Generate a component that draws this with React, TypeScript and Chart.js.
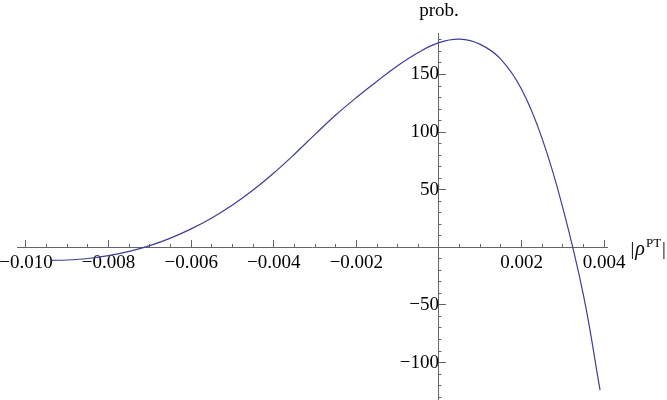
import React, { useEffect, useRef } from "react";
import { Chart, registerables } from "chart.js";

Chart.register(...registerables);

// |rho^PT| values (x) and probability values (y)
const rhoPT = [
  -0.0094, -0.009, -0.0085, -0.008, -0.0075, -0.007, -0.0065, -0.006,
  -0.0055, -0.005, -0.0045, -0.004, -0.0035, -0.003, -0.0025, -0.002,
  -0.0015, -0.001, -0.0005, 0, 0.0005, 0.001, 0.0015, 0.002, 0.0025, 0.003,
  0.0035, 0.0039,
];
const prob = [
  -11.3, -11.0, -9.7, -7.2, -3.5, 1.5, 8.0, 16.0, 25.5, 36.7, 49.7, 64.5,
  80.8, 98.0, 114.8, 130.0, 144.2, 157.6, 169.1, 177.6, 180.6, 176.1, 163.1,
  137.1, 94.1, 34.1, -41.9, -123.9,
];

const X_RANGE = [-0.0102, 0.00408];
const Y_RANGE = [-132.5, 186];
const X_MINOR_STEP = 0.0005;
const X_MAJOR_STEP = 0.002;
const Y_MINOR_STEP = 10;
const Y_MAJOR_STEP = 50;
const X_AXIS_TITLE = ["|", "ρ", "PT", "|"];
const Y_AXIS_TITLE = "prob.";

const FONT = "'Liberation Serif', 'Times New Roman', serif";
const AXIS_COLOR = "#666666";
const LINE_COLOR = "#3d3d99";

const isMultiple = (v: number, step: number) =>
  Math.abs(v / step - Math.round(v / step)) < 1e-6;

const fmtX = (v: number) =>
  (v < 0 ? "\u2212" : "") + Math.abs(v).toFixed(3);
const fmtY = (v: number) =>
  (v < 0 ? "\u2212" : "") + String(Math.round(Math.abs(v)));

const zeroPad = (scale: any) => {
  scale.paddingLeft = 0;
  scale.paddingRight = 0;
  scale.paddingTop = 0;
  scale.paddingBottom = 0;
};

const titlePlugin = {
  id: "axisTitles",
  afterDraw(chart: any) {
    const ctx = chart.ctx;
    const xs = chart.scales.x;
    const ys = chart.scales.y;
    const x0 = xs.getPixelForValue(0);
    const y0 = ys.getPixelForValue(0);
    ctx.save();
    ctx.fillStyle = "#000";
    ctx.textBaseline = "alphabetic";
    // y-axis title
    ctx.font = `19px ${FONT}`;
    ctx.textAlign = "center";
    ctx.fillText(Y_AXIS_TITLE, x0, chart.chartArea.top - 17);
    // x-axis title |rho^PT|
    let px = chart.chartArea.right + 23;
    const base = y0 + 8;
    ctx.textAlign = "left";
    ctx.font = `19px ${FONT}`;
    ctx.fillText(X_AXIS_TITLE[0], px, base);
    px += ctx.measureText(X_AXIS_TITLE[0]).width + 1;
    ctx.font = `italic 20px ${FONT}`;
    ctx.fillText(X_AXIS_TITLE[1], px, base);
    px += ctx.measureText(X_AXIS_TITLE[1]).width + 1;
    ctx.font = `13px ${FONT}`;
    ctx.fillText(X_AXIS_TITLE[2], px, base - 8);
    px += ctx.measureText(X_AXIS_TITLE[2]).width + 1;
    ctx.font = `19px ${FONT}`;
    ctx.fillText(X_AXIS_TITLE[3], px, base);
    ctx.restore();
  },
};

export default function App() {
  const ref = useRef<HTMLCanvasElement | null>(null);

  useEffect(() => {
    if (!ref.current) return;
    const tickFont = { family: FONT, size: 19 };
    const chart = new Chart(ref.current, {
      type: "line",
      data: {
        datasets: [
          {
            data: rhoPT.map((x, i) => ({ x, y: prob[i] })),
            borderColor: LINE_COLOR,
            borderWidth: 1.2,
            pointRadius: 0,
            tension: 0.4,
            fill: false,
            xAxisID: "x",
            yAxisID: "y",
          },
        ],
      },
      options: {
        animation: false,
        responsive: false,
        layout: { padding: { left: 17.7, right: 59.5, top: 33, bottom: 0 } },
        plugins: { legend: { display: false }, tooltip: { enabled: false } },
        scales: {
          x: {
            type: "linear",
            position: { y: 0 } as any,
            min: X_RANGE[0],
            max: X_RANGE[1],
            afterFit: zeroPad,
            border: { display: true, color: AXIS_COLOR, width: 1 },
            grid: {
              drawOnChartArea: false,
              drawTicks: true,
              tickLength: -4,
              tickColor: AXIS_COLOR,
            },
            ticks: {
              stepSize: X_MINOR_STEP,
              includeBounds: false,
              autoSkip: false,
              maxRotation: 0,
              minRotation: 0,
              padding: 8,
              color: "#000",
              font: tickFont,
              callback: (v: any) => {
                const n = Number(v);
                if (Math.abs(n) < 1e-9 || !isMultiple(n, X_MAJOR_STEP)) return "";
                return fmtX(n);
              },
            },
          },
          y: {
            type: "linear",
            position: { x: 0 } as any,
            min: Y_RANGE[0],
            max: Y_RANGE[1],
            afterFit: zeroPad,
            border: { display: true, color: AXIS_COLOR, width: 1 },
            grid: {
              drawOnChartArea: false,
              drawTicks: true,
              tickLength: -3.5,
              tickColor: AXIS_COLOR,
            },
            ticks: {
              stepSize: Y_MINOR_STEP,
              includeBounds: false,
              autoSkip: false,
              padding: 8,
              color: "#000",
              font: tickFont,
              callback: (v: any) => {
                const n = Number(v);
                if (Math.abs(n) < 1e-9 || !isMultiple(n, Y_MAJOR_STEP)) return "";
                return fmtY(n);
              },
            },
          },
          xMajor: {
            type: "linear",
            axis: "x",
            position: { y: 0 } as any,
            min: X_RANGE[0],
            max: X_RANGE[1],
            afterFit: zeroPad,
            border: { display: false },
            grid: {
              drawOnChartArea: false,
              drawTicks: true,
              tickLength: -7,
              tickColor: AXIS_COLOR,
            },
            ticks: {
              stepSize: X_MAJOR_STEP,
              includeBounds: false,
              autoSkip: false,
              display: false,
            },
          },
          yMajor: {
            type: "linear",
            axis: "y",
            position: { x: 0 } as any,
            min: Y_RANGE[0],
            max: Y_RANGE[1],
            afterFit: zeroPad,
            border: { display: false },
            grid: {
              drawOnChartArea: false,
              drawTicks: true,
              tickLength: -7,
              tickColor: AXIS_COLOR,
            },
            ticks: {
              stepSize: Y_MAJOR_STEP,
              includeBounds: false,
              autoSkip: false,
              display: false,
            },
          },
        } as any,
      },
      plugins: [titlePlugin],
    } as any);
    return () => chart.destroy();
  }, []);

  return (
    <div style={{ position: "absolute", left: 0, top: 0, width: 667, height: 400, background: "#fff" }}>
      <canvas ref={ref} width={667} height={400} style={{ display: "block" }} />
    </div>
  );
}
